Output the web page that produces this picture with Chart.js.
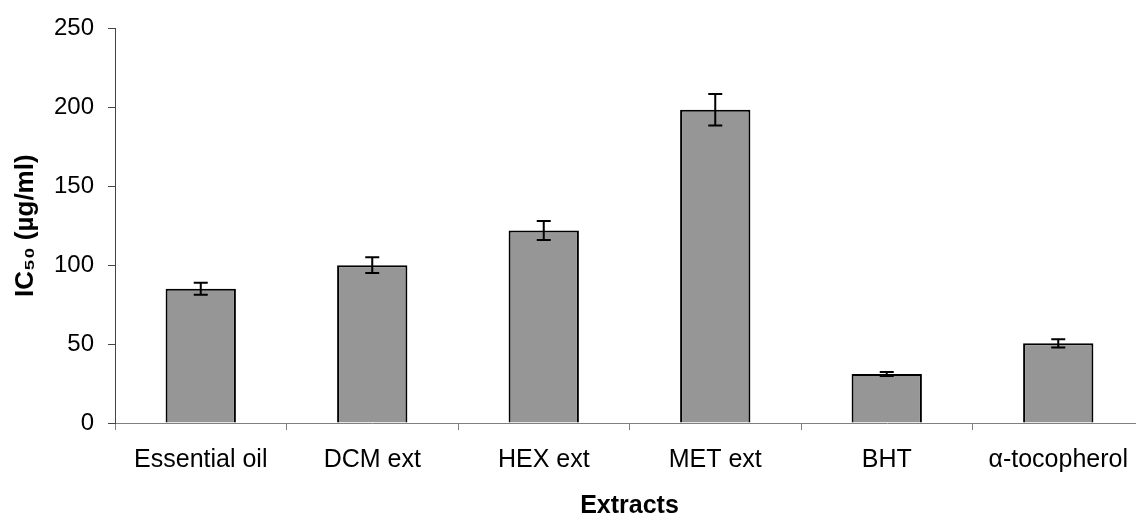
<!DOCTYPE html>
<html>
<head>
<meta charset="utf-8">
<script src="https://cdn.jsdelivr.net/npm/chart.js@4.4.1/dist/chart.umd.min.js"></script>
<style>
  html, body { margin: 0; padding: 0; background: #fff; overflow: hidden; }
  #wrap { width: 1147px; height: 530px; }
</style>
</head>
<body>
<div id="wrap"><canvas id="chart-area" width="1147" height="530"></canvas></div>
<script>
var categories = ["Essential oil", "DCM ext", "HEX ext", "MET ext", "BHT", "\u03b1-tocopherol"];
var ic50Values = [85, 100, 122, 198.5, 31, 50.5];
var ic50Errors = [3.8, 5, 6, 10, 1.3, 2.6];
var yTicks = [0, 50, 100, 150, 200, 250];

// draws the +/- error whiskers on top of each bar
var errorBars = {
    id: 'errorBars',
    afterDatasetsDraw: function(chart) {
        var ctx = chart.ctx;
        var y = chart.scales.y;
        var meta = chart.getDatasetMeta(0);
        ctx.save();
        ctx.strokeStyle = '#000';
        ctx.lineWidth = 2;
        meta.data.forEach(function(bar, i) {
            var top = y.getPixelForValue(ic50Values[i] + ic50Errors[i]);
            var bot = y.getPixelForValue(ic50Values[i] - ic50Errors[i]);
            ctx.beginPath();
            ctx.moveTo(bar.x, top); ctx.lineTo(bar.x, bot);
            ctx.moveTo(bar.x - 7, top); ctx.lineTo(bar.x + 7, top);
            ctx.moveTo(bar.x - 7, bot); ctx.lineTo(bar.x + 7, bot);
            ctx.stroke();
        });
        ctx.restore();
    }
};

var config = {
    type: 'bar',
    data: {
        labels: categories,
        datasets: [{
            data: ic50Values,
            backgroundColor: '#969696',
            borderColor: '#000',
            borderWidth: 2,
            borderSkipped: 'bottom',
            categoryPercentage: 0.41,
            barPercentage: 1.0
        }]
    },
    options: {
        responsive: false,
        animation: false,
        devicePixelRatio: 1,
        layout: { padding: { top: 28, left: 0, right: 3, bottom: 0 } },
        plugins: { legend: { display: false }, tooltip: { enabled: false } },
        scales: {
            x: {
                offset: true,
                afterFit: function(s) { s.height = 107; },
                grid: { offset: true, drawOnChartArea: false, drawTicks: true, tickLength: 7, color: '#808080', lineWidth: 1 },
                border: { color: '#808080', width: 1 },
                ticks: { color: '#000', padding: 15, maxRotation: 0, font: { family: 'Liberation Sans', size: 25 } },
                title: { display: true, text: 'Extracts', color: '#000', padding: { top: 0, bottom: 9 },
                         font: { family: 'Liberation Sans', size: 25, weight: 'bold' } }
            },
            y: {
                min: 0, max: 250,
                afterFit: function(s) { s.width = 115; },
                afterBuildTicks: function(s) { s.ticks = yTicks.map(function(v) { return { value: v }; }); },
                grid: { drawOnChartArea: false, drawTicks: true, tickLength: 7, color: '#444', lineWidth: 1 },
                border: { color: '#444', width: 1 },
                ticks: { color: '#000', padding: 14, font: { family: 'Liberation Sans', size: 24 } },
                title: { display: true, text: 'IC\u2085\u2080 (\u00b5g/ml)', color: '#000', padding: { top: 10, bottom: 0 },
                         font: { family: 'Liberation Sans', size: 26, weight: 'bold' } }
            }
        }
    },
    plugins: [errorBars]
};

window.onload = function() {
    var ctx = document.getElementById("chart-area").getContext("2d");
    window.myBar = new Chart(ctx, config);
};
</script>
</body>
</html>
